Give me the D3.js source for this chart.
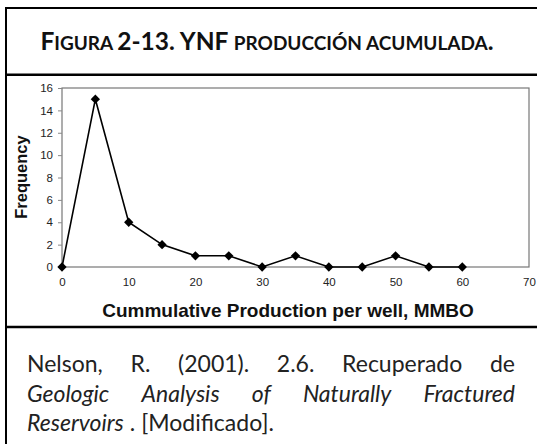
<!DOCTYPE html>
<html>
<head>
<meta charset="utf-8">
<script src="https://cdn.jsdelivr.net/npm/d3@7"></script>
<style>
  html, body { margin: 0; padding: 0; background: #fff; }
  svg { display: block; }
</style>
</head>
<body>
<svg id="fig" width="537" height="444"></svg>
<script>
// Cumulative production per well (MMBO) and the number of wells in each bin
const production = [0, 5, 10, 15, 20, 25, 30, 35, 40, 45, 50, 55, 60];
const frequency  = [0, 15, 4, 2, 1, 1, 0, 1, 0, 0, 1, 0, 0];
const xTicks = [0, 10, 20, 30, 40, 50, 60, 70];
const yTicks = [0, 2, 4, 6, 8, 10, 12, 14, 16];

const titleParts = [
  ["F", 24.5], ["IGURA ", 19], ["2-13. YNF ", 24.5], ["PRODUCCIÓN ACUMULADA", 19], [".", 24.5]
];
const captionLines = [
  { words: ["Nelson,", "R.", "(2001).", "2.6.", "Recuperado", "de"], italic: [], justify: true },
  { words: ["Geologic", "Analysis", "of", "Naturally", "Fractured"], italic: [0,1,2,3,4], justify: true },
  { words: ["Reservoirs", ".", "[Modificado]."], italic: [0], justify: false }
];

const svg = d3.select("#fig");

// Table frame: title row, chart row, caption row
const frame = svg.append("g").attr("fill", "none").attr("stroke", "#000");
frame.append("line").attr("x1", 6).attr("x2", 540).attr("y1", 8).attr("y2", 8).attr("stroke-width", 2);
frame.append("line").attr("x1", 6).attr("x2", 6).attr("y1", 7).attr("y2", 444).attr("stroke-width", 2);
frame.append("line").attr("x1", 5).attr("x2", 540).attr("y1", 74.8).attr("y2", 74.8).attr("stroke-width", 2.5);
frame.append("line").attr("x1", 5).attr("x2", 540).attr("y1", 327).attr("y2", 327).attr("stroke-width", 2.5);

// Title in small capitals
const title = svg.append("text")
  .attr("x", 267).attr("y", 50)
  .attr("text-anchor", "middle")
  .attr("font-family", "Lato, 'Open Sans', sans-serif")
  .attr("font-weight", "bold")
  .attr("fill", "#111");
titleParts.forEach(([t, s]) => title.append("tspan").attr("font-size", s).text(t));

// Chart area
const margin = { left: 62, right: 529, top: 88, bottom: 267 };
const x = d3.scaleLinear().domain([0, 70]).range([margin.left, margin.right]);
const y = d3.scaleLinear().domain([0, 16]).range([margin.bottom, margin.top]);

const chart = svg.append("g");

chart.append("rect")
  .attr("x", x(0)).attr("y", y(16))
  .attr("width", x(70) - x(0)).attr("height", y(0) - y(16))
  .attr("fill", "none").attr("stroke", "#777").attr("stroke-width", 1.2);

const yAxis = d3.axisLeft(y).tickValues(yTicks).tickSize(4).tickPadding(5);
const xAxis = d3.axisBottom(x).tickValues(xTicks).tickSize(0).tickPadding(11);

const gy = chart.append("g").attr("transform", `translate(${x(0)},0)`).call(yAxis);
const gx = chart.append("g").attr("transform", `translate(0,${y(0)})`).call(xAxis);
[gx, gy].forEach(g => {
  g.select(".domain").remove();
  g.selectAll(".tick line").attr("stroke", "#888");
  g.selectAll("text")
    .attr("font-family", "'Liberation Sans', Arial, sans-serif")
    .attr("font-size", 11.5)
    .attr("fill", "#222");
});

const pts = production.map((p, i) => ({ p, f: frequency[i] }));

chart.append("path")
  .datum(pts)
  .attr("fill", "none")
  .attr("stroke", "#000")
  .attr("stroke-width", 1.6)
  .attr("d", d3.line().x(d => x(d.p)).y(d => y(d.f)));

chart.selectAll(".marker")
  .data(pts)
  .join("path")
  .attr("class", "marker")
  .attr("transform", d => `translate(${x(d.p)},${y(d.f)})`)
  .attr("d", d3.symbol(d3.symbolDiamond2, 55))
  .attr("fill", "#000");

chart.append("text")
  .attr("x", 288).attr("y", 317)
  .attr("text-anchor", "middle")
  .attr("font-family", "'Liberation Sans', Arial, sans-serif")
  .attr("font-weight", "bold").attr("font-size", 19)
  .attr("fill", "#111")
  .text("Cummulative Production per well, MMBO");

chart.append("text")
  .attr("transform", `translate(27,177) rotate(-90)`)
  .attr("text-anchor", "middle")
  .attr("font-family", "'Liberation Sans', Arial, sans-serif")
  .attr("font-weight", "bold").attr("font-size", 16.5)
  .attr("fill", "#111")
  .text("Frequency");

// Caption, justified word by word
const capLeft = 27, capRight = 515, capTop = 372, lineGap = 29.5;
captionLines.forEach((line, li) => {
  const g = svg.append("g");
  const nodes = line.words.map((w, wi) => g.append("text")
    .attr("y", capTop + li * lineGap)
    .attr("font-family", "Lato, 'Open Sans', sans-serif")
    .attr("font-size", 23)
    .attr("font-style", line.italic.includes(wi) ? "italic" : "normal")
    .attr("fill", "#222")
    .text(w));
  const widths = nodes.map(n => n.node().getComputedTextLength());
  const total = d3.sum(widths);
  const gap = line.justify && nodes.length > 1
    ? (capRight - capLeft - total) / (nodes.length - 1)
    : 6;
  let cx = capLeft;
  nodes.forEach((n, i) => { n.attr("x", cx); cx += widths[i] + gap; });
});
</script>
</body>
</html>
